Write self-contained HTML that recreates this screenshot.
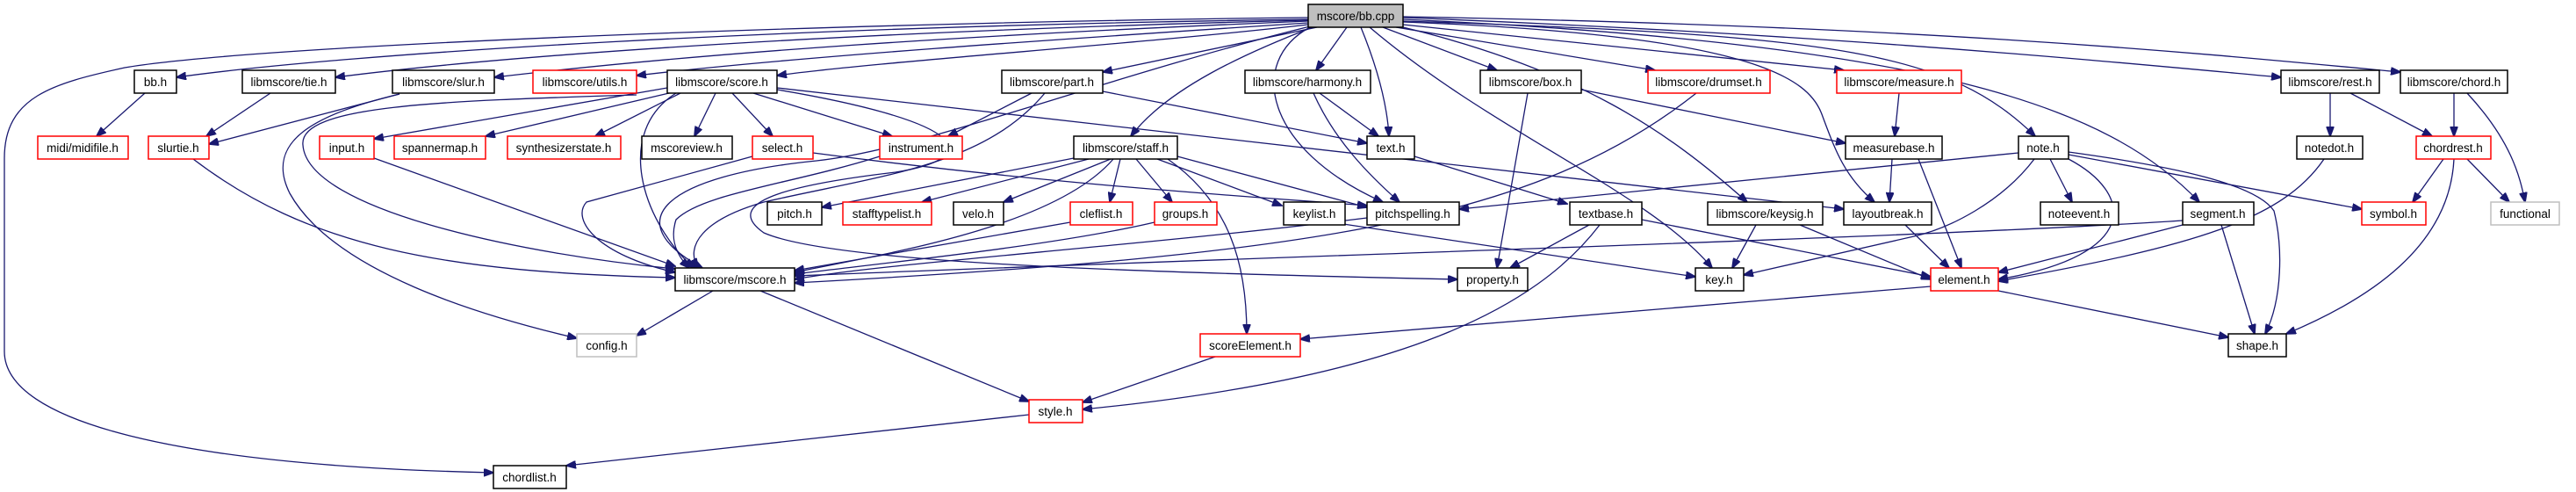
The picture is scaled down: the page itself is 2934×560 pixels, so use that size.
<!DOCTYPE html>
<html><head><meta charset="utf-8"><style>
html,body{margin:0;padding:0;background:#fff;}
svg{display:block;}
text{font-family:"Liberation Sans",sans-serif;font-size:13.5px;fill:#000;text-anchor:middle;}
.e{fill:none;stroke:#191970;stroke-width:1.3;marker-end:url(#a);}
.n{fill:#fff;stroke:#000;stroke-width:1.5;}
.r{fill:#fff;stroke:#ff0000;stroke-width:1.5;}
.g{fill:#fff;stroke:#bfbfbf;stroke-width:1.5;}
.s{fill:#bfbfbf;stroke:#000;stroke-width:1.5;}
</style></head><body>
<svg width="2934" height="560" viewBox="0 0 2934 560" xmlns="http://www.w3.org/2000/svg">
<defs><marker id="a" markerWidth="12" markerHeight="9" refX="11" refY="4.5" orient="auto" markerUnits="userSpaceOnUse"><path d="M0,0 L12,4.5 L0,9 z" fill="#191970" stroke="#191970"/></marker></defs>
<g>
<!-- bb.cpp edges -->
<path class="e" d="M1490,22 C900,30 400,60 201,88"/>
<path class="e" d="M1490,23 C1000,35 600,60 382,88"/>
<path class="e" d="M1490,24 C1100,40 800,60 563,88"/>
<path class="e" d="M1490,26 C1200,45 900,65 725,86"/>
<path class="e" d="M1490,28 C1300,50 1000,70 885,86"/>
<path class="e" d="M1500,31 L1256,82"/>
<path class="e" d="M1534,31 L1499,80"/>
<path class="e" d="M1550,31 C1570,80 1580,120 1582,155"/>
<path class="e" d="M1495,31 C1420,60 1330,100 1288,155"/>
<path class="e" d="M1492,30 C1250,90 1050,170 930,183 C760,200 700,250 800,305"/>
<path class="e" d="M1492,31 C1420,70 1440,170 1575,230"/>
<path class="e" d="M1560,31 C1700,150 1880,220 1950,305"/>
<path class="e" d="M1575,31 L1705,80"/>
<path class="e" d="M1590,31 L1885,80"/>
<path class="e" d="M1598,28 L2100,80"/>
<path class="e" d="M1598,31 C1800,80 1900,150 1990,230"/>
<path class="e" d="M1598,25 C2000,40 2060,90 2075,130 C2090,170 2100,200 2135,230"/>
<path class="e" d="M1598,24 C2100,40 2220,60 2318,155"/>
<path class="e" d="M1598,22 C2200,50 2400,120 2505,230"/>
<path class="e" d="M1598,20 C2100,40 2400,70 2598,88"/>
<path class="e" d="M1598,19 C2200,30 2500,60 2734,82"/>
<path class="e" d="M1490,20 C1000,25 300,50 142,77 C60,95 5,110 5,180 L5,400 C5,480 200,530 562,538"/>
<!-- row1 -->
<path class="e" d="M165,106 L110,155"/>
<path class="e" d="M308,106 L235,155"/>
<path class="e" d="M455,107 L238,164"/>
<path class="e" d="M455,107 C360,130 300,160 330,220 C380,310 550,360 657,385"/>
<path class="e" d="M725,108 C500,115 340,120 345,165 C350,240 600,290 769,306"/>
<path class="e" d="M760,100 L426,158"/>
<path class="e" d="M762,106 L553,155"/>
<path class="e" d="M775,106 L678,155"/>
<path class="e" d="M815,106 L791,155"/>
<path class="e" d="M834,106 L880,155"/>
<path class="e" d="M858,106 L1016,155"/>
<path class="e" d="M885,100 L2100,238"/>
<path class="e" d="M885,102 C1110,140 1120,180 1020,196 C900,210 820,230 870,265 C950,300 1300,310 1660,318"/>
<path class="e" d="M770,106 C700,150 730,250 790,305"/>
<path class="e" d="M1175,106 L1080,155"/>
<path class="e" d="M1256,104 L1557,163"/>
<path class="e" d="M1190,106 C1120,190 1000,200 870,230 C800,250 780,280 795,305"/>
<path class="e" d="M1503,106 L1570,155"/>
<path class="e" d="M1496,106 C1520,160 1560,200 1594,230"/>
<path class="e" d="M1740,106 L1705,305"/>
<path class="e" d="M1801,102 L2102,163"/>
<path class="e" d="M1932,106 C1750,250 1500,290 905,322"/>
<path class="e" d="M2163,106 L2158,155"/>
<path class="e" d="M2654,106 L2654,155"/>
<path class="e" d="M2677,106 L2770,155"/>
<path class="e" d="M2795,106 L2795,155"/>
<path class="e" d="M2810,106 C2860,160 2870,200 2876,230"/>
<!-- row2 -->
<path class="e" d="M1223,180 L936,236"/>
<path class="e" d="M1240,181 L1050,230"/>
<path class="e" d="M1265,181 L1143,230"/>
<path class="e" d="M1276,181 L1264,230"/>
<path class="e" d="M1294,181 L1335,230"/>
<path class="e" d="M1318,181 L1460,234"/>
<path class="e" d="M1341,178 L1557,236"/>
<path class="e" d="M1268,181 C1200,260 1000,290 905,310"/>
<path class="e" d="M1330,181 C1400,230 1420,300 1420,380"/>
<path class="e" d="M857,178 L668,230 C650,250 680,290 769,310"/>
<path class="e" d="M926,174 C1200,210 1400,222 1557,234"/>
<path class="e" d="M1002,178 C900,210 800,220 770,250 C760,280 780,300 785,305"/>
<path class="e" d="M426,180 L769,303"/>
<path class="e" d="M220,181 C350,280 500,310 769,316"/>
<path class="e" d="M1611,178 L1785,232"/>
<path class="e" d="M2155,181 L2152,230"/>
<path class="e" d="M2185,181 L2234,305"/>
<path class="e" d="M2299,174 L1662,238"/>
<path class="e" d="M2317,181 C2280,230 2220,260 2180,269 L1986,313"/>
<path class="e" d="M2335,181 L2360,230"/>
<path class="e" d="M2356,181 C2430,220 2440,290 2276,318"/>
<path class="e" d="M2356,176 L2690,238"/>
<path class="e" d="M2356,173 C2480,190 2570,210 2590,240 C2600,280 2600,340 2580,380"/>
<path class="e" d="M2647,181 C2600,250 2500,280 2276,320"/>
<path class="e" d="M2783,181 L2748,230"/>
<path class="e" d="M2810,181 L2858,230"/>
<path class="e" d="M2795,181 C2790,280 2700,340 2604,380"/>
<!-- row3 -->
<path class="e" d="M1822,256 C1750,350 1600,430 1233,466"/>
<path class="e" d="M1810,256 L1720,305"/>
<path class="e" d="M1870,250 L2199,315"/>
<path class="e" d="M2000,256 L1973,305"/>
<path class="e" d="M2050,256 L2199,318"/>
<path class="e" d="M2170,256 L2220,305"/>
<path class="e" d="M1530,255 L1931,315"/>
<path class="e" d="M1557,248 C1300,280 1000,300 905,318"/>
<path class="e" d="M1219,253 L905,308"/>
<path class="e" d="M1315,253 C1200,280 1000,300 905,312"/>
<path class="e" d="M2486,256 L2276,310"/>
<path class="e" d="M2486,251 C2200,270 1500,290 905,314"/>
<path class="e" d="M2530,256 L2568,380"/>
<!-- row4+ -->
<path class="e" d="M812,331 L725,382"/>
<path class="e" d="M866,331 L1172,457"/>
<path class="e" d="M1387,405 L1233,458"/>
<path class="e" d="M1172,472 L645,530"/>
<path class="e" d="M2199,326 L1481,386"/>
<path class="e" d="M2276,331 L2538,384"/>
</g>
<g>
<rect class="s" x="1490" y="5" width="108" height="26"/><text x="1544" y="23">mscore/bb.cpp</text>
<rect class="n" x="153" y="80" width="48" height="26"/><text x="177" y="98">bb.h</text>
<rect class="n" x="276" y="80" width="106" height="26"/><text x="329" y="98">libmscore/tie.h</text>
<rect class="n" x="447" y="80" width="116" height="26"/><text x="505" y="98">libmscore/slur.h</text>
<rect class="r" x="607" y="80" width="118" height="26"/><text x="666" y="98">libmscore/utils.h</text>
<rect class="n" x="760" y="80" width="125" height="26"/><text x="822" y="98">libmscore/score.h</text>
<rect class="n" x="1141" y="80" width="115" height="26"/><text x="1198" y="98">libmscore/part.h</text>
<rect class="n" x="1418" y="80" width="143" height="26"/><text x="1489" y="98">libmscore/harmony.h</text>
<rect class="n" x="1686" y="80" width="115" height="26"/><text x="1743" y="98">libmscore/box.h</text>
<rect class="r" x="1877" y="80" width="139" height="26"/><text x="1946" y="98">libmscore/drumset.h</text>
<rect class="r" x="2092" y="80" width="142" height="26"/><text x="2163" y="98">libmscore/measure.h</text>
<rect class="n" x="2598" y="80" width="112" height="26"/><text x="2654" y="98">libmscore/rest.h</text>
<rect class="n" x="2734" y="80" width="122" height="26"/><text x="2795" y="98">libmscore/chord.h</text>

<rect class="r" x="43" y="155" width="103" height="26"/><text x="94" y="173">midi/midifile.h</text>
<rect class="r" x="169" y="155" width="69" height="26"/><text x="203" y="173">slurtie.h</text>
<rect class="r" x="364" y="155" width="62" height="26"/><text x="395" y="173">input.h</text>
<rect class="r" x="449" y="155" width="104" height="26"/><text x="501" y="173">spannermap.h</text>
<rect class="r" x="578" y="155" width="129" height="26"/><text x="642" y="173">synthesizerstate.h</text>
<rect class="n" x="731" y="155" width="103" height="26"/><text x="782" y="173">mscoreview.h</text>
<rect class="r" x="857" y="155" width="69" height="26"/><text x="891" y="173">select.h</text>
<rect class="r" x="1002" y="155" width="94" height="26"/><text x="1049" y="173">instrument.h</text>
<rect class="n" x="1223" y="155" width="118" height="26"/><text x="1282" y="173">libmscore/staff.h</text>
<rect class="n" x="1557" y="155" width="54" height="26"/><text x="1584" y="173">text.h</text>
<rect class="n" x="2102" y="155" width="110" height="26"/><text x="2157" y="173">measurebase.h</text>
<rect class="n" x="2299" y="155" width="57" height="26"/><text x="2327" y="173">note.h</text>
<rect class="n" x="2616" y="155" width="75" height="26"/><text x="2653" y="173">notedot.h</text>
<rect class="r" x="2752" y="155" width="85" height="26"/><text x="2794" y="173">chordrest.h</text>

<rect class="n" x="874" y="230" width="62" height="26"/><text x="905" y="248">pitch.h</text>
<rect class="r" x="960" y="230" width="101" height="26"/><text x="1010" y="248">stafftypelist.h</text>
<rect class="n" x="1086" y="230" width="57" height="26"/><text x="1114" y="248">velo.h</text>
<rect class="r" x="1219" y="230" width="71" height="26"/><text x="1254" y="248">cleflist.h</text>
<rect class="r" x="1315" y="230" width="71" height="26"/><text x="1350" y="248">groups.h</text>
<rect class="n" x="1462" y="230" width="70" height="26"/><text x="1497" y="248">keylist.h</text>
<rect class="n" x="1557" y="230" width="105" height="26"/><text x="1609" y="248">pitchspelling.h</text>
<rect class="n" x="1788" y="230" width="82" height="26"/><text x="1829" y="248">textbase.h</text>
<rect class="n" x="1945" y="230" width="131" height="26"/><text x="2010" y="248">libmscore/keysig.h</text>
<rect class="n" x="2100" y="230" width="100" height="26"/><text x="2150" y="248">layoutbreak.h</text>
<rect class="n" x="2324" y="230" width="89" height="26"/><text x="2368" y="248">noteevent.h</text>
<rect class="n" x="2486" y="230" width="81" height="26"/><text x="2526" y="248">segment.h</text>
<rect class="r" x="2690" y="230" width="73" height="26"/><text x="2726" y="248">symbol.h</text>
<rect class="g" x="2837" y="230" width="78" height="26"/><text x="2876" y="248">functional</text>

<rect class="n" x="769" y="305" width="136" height="26"/><text x="837" y="323">libmscore/mscore.h</text>
<rect class="n" x="1660" y="305" width="80" height="26"/><text x="1700" y="323">property.h</text>
<rect class="n" x="1931" y="305" width="55" height="26"/><text x="1958" y="323">key.h</text>
<rect class="r" x="2199" y="305" width="77" height="26"/><text x="2237" y="323">element.h</text>

<rect class="g" x="657" y="380" width="68" height="26"/><text x="691" y="398">config.h</text>
<rect class="r" x="1367" y="380" width="114" height="26"/><text x="1424" y="398">scoreElement.h</text>
<rect class="n" x="2538" y="380" width="66" height="26"/><text x="2571" y="398">shape.h</text>

<rect class="r" x="1172" y="455" width="61" height="26"/><text x="1202" y="473">style.h</text>
<rect class="n" x="562" y="530" width="83" height="26"/><text x="603" y="548">chordlist.h</text>
</g>
</svg>
</body></html>
